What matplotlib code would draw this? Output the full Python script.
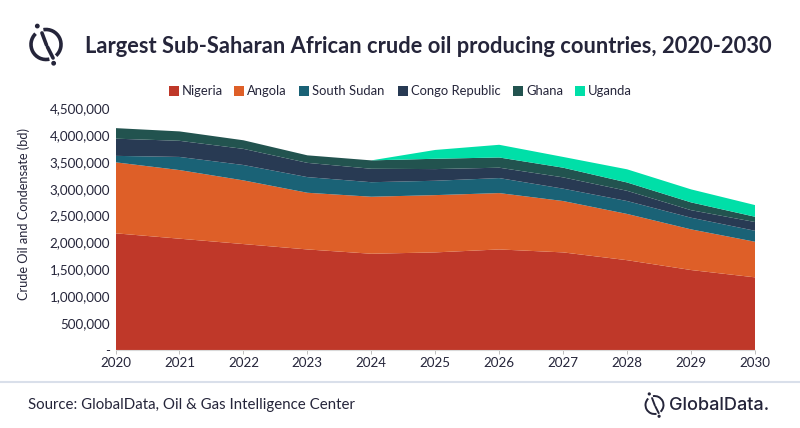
import matplotlib
matplotlib.use("Agg")
import matplotlib.pyplot as plt
from matplotlib.patches import Arc, Circle, Rectangle
from matplotlib.lines import Line2D

years = [2020, 2021, 2022, 2023, 2024, 2025, 2026, 2027, 2028, 2029, 2030]
nigeria = [2170000, 2070000, 1970000, 1870000, 1790000, 1815000, 1870000, 1815000, 1670000, 1487000, 1351000]
angola = [1320000, 1276000, 1184000, 1054000, 1060000, 1065000, 1048000, 955000, 860000, 756000, 662000]
south_sudan = [120000, 244000, 286000, 291000, 270000, 267000, 279000, 230000, 240000, 217000, 204000]
congo = [320000, 300000, 300000, 265000, 250000, 217000, 193000, 210000, 190000, 140000, 163000]
ghana = [196000, 175000, 160000, 140000, 156000, 192000, 190000, 180000, 155000, 145000, 98000]
uganda = [0, 0, 0, 0, 0, 164000, 236000, 200000, 245000, 242000, 217000]
names = ["Nigeria", "Angola", "South Sudan", "Congo Republic", "Ghana", "Uganda"]
colors = ["#BF3829", "#DE5F28", "#1A6276", "#283A53", "#22534F", "#00DFA8"]
yticks = [0, 500000, 1000000, 1500000, 2000000, 2500000, 3000000, 3500000, 4000000, 4500000]
title = "Largest Sub-Saharan African crude oil producing countries, 2020-2030"
source = "Source: GlobalData, Oil & Gas Intelligence Center"

plt.rcParams["font.family"] = ["Lato", "DejaVu Sans"]
INK = "#25253A"
W, H = 800, 428
fig = plt.figure(figsize=(W / 100, H / 100), dpi=100, facecolor="white")
ax = fig.add_axes([115.5 / W, 1 - 350 / H, (755 - 115.5) / W, (350 - 108) / H])
ax.stackplot(years, nigeria, angola, south_sudan, congo, ghana, uganda, colors=colors, linewidth=0)
ax.set_xlim(2020, 2030)
ax.set_ylim(0, 4500000)
ax.set_xticks(years)
ax.set_yticks(yticks)
ax.set_yticklabels(["-" if v == 0 else f"{v:,}" for v in yticks])
ax.tick_params(axis="x", length=3, width=0.7, color="#BFBFBF", labelsize=9.6, labelcolor=INK, pad=2)
ax.tick_params(axis="y", length=0, labelsize=9.6, labelcolor=INK, pad=4)
for s in ["top", "right", "left"]:
    ax.spines[s].set_visible(False)
ax.spines["bottom"].set_color("#D9D9D9")
ax.set_ylabel("Crude Oil and Condensate (bd)", fontsize=9.15, color=INK)
ax.yaxis.set_label_coords((30 - 115.5) / (755 - 115.5), (350 - 213.5) / (350 - 108))

# Overlay in pixel coordinates for title, legend, footer, logos
ov = fig.add_axes([0, 0, 1, 1], facecolor="none")
ov.set_xlim(0, W)
ov.set_ylim(H, 0)
ov.axis("off")

ov.text(85, 46, title, fontsize=15.72, fontweight="bold", color=INK, va="center", ha="left")

legend_x = [169, 234, 299, 398, 513, 575]
for name, col, x in zip(names, colors, legend_x):
    ov.add_patch(Rectangle((x, 86), 10, 10, facecolor=col, edgecolor="none"))
    ov.text(x + 13, 91, name, fontsize=9.4, color=INK, va="center", ha="left")

ov.add_line(Line2D([0, W], [382, 382], color="#D9DFEA", lw=1.5))
ov.text(28, 405, source, fontsize=10.8, color=INK, va="center", ha="left")


def logo(cx, cy, r, lw, dot):
    # y axis of the overlay is inverted, so the arc angles are measured clockwise from +x
    ov.add_patch(Arc((cx, cy), 2 * r, 2 * r, theta1=-100, theta2=48, color=INK, lw=lw))
    ov.add_patch(Arc((cx, cy), 2 * r, 2 * r, theta1=77, theta2=226, color=INK, lw=lw))
    ov.add_line(Line2D([cx - r * 0.27, cx + r * 0.03], [cy - r * 0.77, cy + r * 0.03], color=INK, lw=lw, solid_capstyle="round"))
    ov.add_line(Line2D([cx + r * 0.10, cx + r * 0.47], [cy + r * 0.17, cy + r * 0.90], color=INK, lw=lw, solid_capstyle="round"))
    ov.add_patch(Circle((cx - r * 0.58, cy - r * 1.23), dot, color=INK))
    ov.add_patch(Circle((cx + r * 0.51, cy + r * 1.25), dot, color=INK))


logo(46, 44.5, 15, 2.6, 1.7)
logo(654.5, 405, 9, 1.4, 0.9)
ov.text(669, 405, "GlobalData.", fontsize=13.05, color=INK, va="center", ha="left", fontfamily="Inter", fontweight="medium")

fig.savefig("out.png", dpi=100, facecolor="white")
